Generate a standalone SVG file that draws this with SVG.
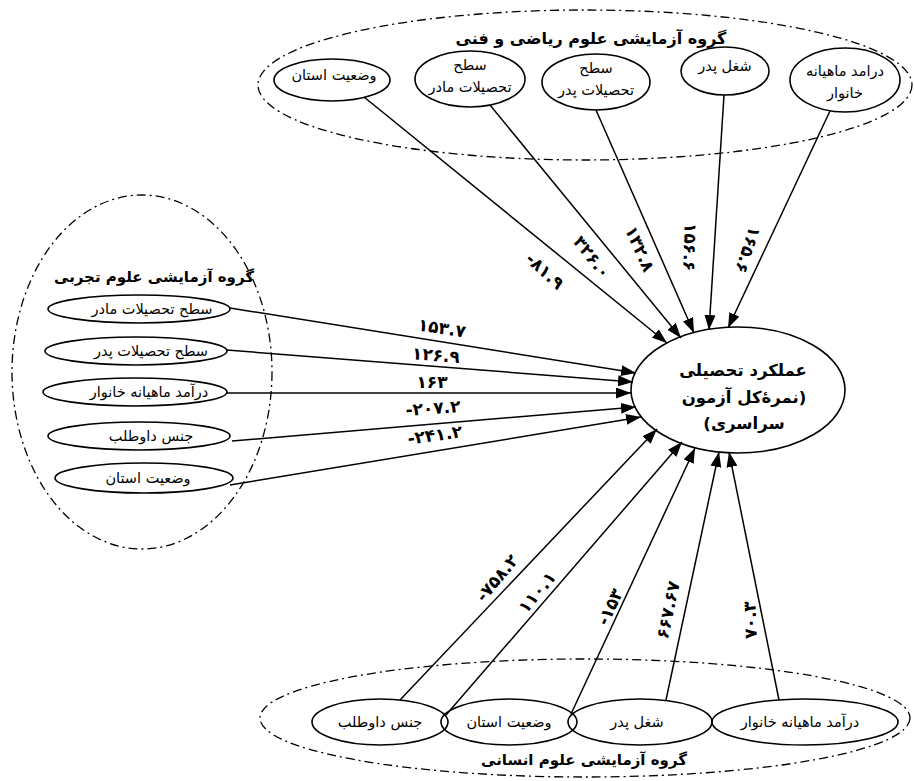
<svg xmlns="http://www.w3.org/2000/svg" width="914" height="781" viewBox="0 0 914 781">
<style>
.grp{fill:none;stroke:#000;stroke-width:1.3;stroke-dasharray:9 4 2 4}
.node{fill:none;stroke:#000;stroke-width:1.6}
.t{font-family:"DejaVu Sans",sans-serif;font-size:14.5px;fill:#000;text-anchor:middle;direction:rtl}
.title{font-family:"DejaVu Sans",sans-serif;font-size:15px;font-weight:bold;fill:#000;text-anchor:middle;direction:rtl}
.ctr{font-family:"DejaVu Sans",sans-serif;font-size:16.5px;font-weight:bold;fill:#000;text-anchor:middle;direction:rtl}
.num{font-family:"DejaVu Sans",sans-serif;font-size:17px;font-weight:bold;fill:#000;text-anchor:middle}
#connectors line{stroke:#000;stroke-width:1.5;marker-end:url(#ah)}
</style>
<defs>
<marker id="ah" markerUnits="userSpaceOnUse" markerWidth="15" markerHeight="11" refX="15" refY="5.5" orient="auto" viewBox="0 0 15 11">
<path d="M0,0 L15,5.5 L0,11 z" fill="#000"/>
</marker>
</defs>
<rect width="914" height="781" fill="#fff"/>

<!-- group frames -->
<g id="group-math">
<ellipse class="grp" cx="585" cy="85" rx="327" ry="75"/>
<text class="title" x="591" y="44" style="font-size:16px">گروه آزمایشی علوم ریاضی و فنی</text>
</g>
<g id="group-exp">
<ellipse class="grp" cx="142" cy="372" rx="130" ry="177"/>
<text class="title" x="154" y="282">گروه آزمایشی علوم تجربی</text>
</g>
<g id="group-hum">
<ellipse class="grp" cx="585" cy="718" rx="325" ry="59"/>
<text class="title" x="584" y="765">گروه آزمایشی علوم انسانی</text>
</g>

<!-- top nodes -->
<g id="m-province"><ellipse class="node" cx="332" cy="80" rx="58" ry="21"/><text class="t" x="334" y="80">وضعیت استان</text></g>
<g id="m-mother-edu"><ellipse class="node" cx="470" cy="79" rx="55" ry="28"/><text class="t" x="470" y="70">سطح</text><text class="t" x="470" y="92">تحصیلات مادر</text></g>
<g id="m-father-edu"><ellipse class="node" cx="596" cy="82" rx="54" ry="28"/><text class="t" x="596" y="73">سطح</text><text class="t" x="596" y="95">تحصیلات پدر</text></g>
<g id="m-father-job"><ellipse class="node" cx="725" cy="71" rx="44" ry="24"/><text class="t" x="725" y="71">شغل پدر</text></g>
<g id="m-income"><ellipse class="node" cx="845" cy="80" rx="55" ry="32"/><text class="t" x="845" y="76">درامد ماهیانه</text><text class="t" x="845" y="98">خانوار</text></g>

<!-- left nodes -->
<g id="e-mother-edu"><ellipse class="node" cx="139" cy="309" rx="91" ry="14"/><text class="t" x="152" y="314">سطح تحصیلات مادر</text></g>
<g id="e-father-edu"><ellipse class="node" cx="136" cy="351" rx="91" ry="14"/><text class="t" x="151" y="356">سطح تحصیلات پدر</text></g>
<g id="e-income"><ellipse class="node" cx="135" cy="392" rx="92" ry="14"/><text class="t" x="149" y="397">درآمد ماهیانه خانوار</text></g>
<g id="e-gender"><ellipse class="node" cx="139" cy="436" rx="91" ry="14"/><text class="t" x="151" y="441">جنس داوطلب</text></g>
<g id="e-province"><ellipse class="node" cx="144" cy="478" rx="89" ry="15"/><text class="t" x="148" y="483">وضعیت استان</text></g>

<!-- bottom nodes -->
<g id="h-gender"><ellipse class="node" cx="380" cy="722" rx="68" ry="23"/><text class="t" x="380" y="727">جنس داوطلب</text></g>
<g id="h-province"><ellipse class="node" cx="509" cy="722" rx="68" ry="23"/><text class="t" x="509" y="727">وضعیت استان</text></g>
<g id="h-father-job"><ellipse class="node" cx="640" cy="722" rx="72" ry="23"/><text class="t" x="637" y="727">شغل پدر</text></g>
<g id="h-income"><ellipse class="node" cx="805" cy="722" rx="93" ry="23"/><text class="t" x="800" y="727">درآمد ماهیانه خانوار</text></g>

<!-- center node -->
<g id="performance">
<ellipse class="node" cx="738" cy="390" rx="107" ry="63"/>
<text class="ctr" x="743" y="376">عملکرد تحصیلی</text>
<text class="ctr" x="744" y="403">(نمرۀکل آزمون</text>
<text class="ctr" x="744" y="429">سراسری)</text>
</g>

<g id="connectors">
<line x1="364" y1="97" x2="667" y2="343"/>
<line x1="490" y1="105" x2="681" y2="338"/>
<line x1="596" y1="110" x2="694" y2="333"/>
<line x1="724" y1="95" x2="709" y2="330"/>
<line x1="830" y1="111" x2="728" y2="328"/>
<line x1="230" y1="308" x2="636" y2="373"/>
<line x1="227" y1="350" x2="633" y2="382"/>
<line x1="227" y1="393" x2="631" y2="393"/>
<line x1="232" y1="441" x2="636" y2="407"/>
<line x1="230" y1="485" x2="641" y2="417"/>
<line x1="400" y1="700" x2="657" y2="429"/>
<line x1="446" y1="715" x2="682" y2="442"/>
<line x1="571" y1="714" x2="695" y2="448"/>
<line x1="666" y1="700" x2="719" y2="452"/>
<line x1="779" y1="700" x2="729" y2="452"/>
</g>

<g id="labels">
<text class="num" transform="translate(545,271) rotate(42)" y="6">-۸۱.۹</text>
<text class="num" transform="translate(592,257) rotate(52)" y="6">۳۲۶.۰</text>
<text class="num" transform="translate(640,249) rotate(66)" y="6">۱۳۲.۸</text>
<text class="num" transform="translate(690,247) rotate(92)" y="6">۱۵۶.۶</text>
<text class="num" transform="translate(748,250) rotate(108)" y="6">۱۶۵.۶</text>
<text class="num" transform="translate(442,328) rotate(9)" y="6">۱۵۳.۷</text>
<text class="num" transform="translate(436,355) rotate(5)" y="6">۱۲۶.۹</text>
<text class="num" transform="translate(432,382)" y="6">۱۶۳</text>
<text class="num" transform="translate(433,408) rotate(-4)" y="6">-۲۰۷.۲</text>
<text class="num" transform="translate(435,435) rotate(-8)" y="6">-۲۴۱.۲</text>
<text class="num" transform="translate(497,578) rotate(-50)" y="6">-۷۵۸.۲</text>
<text class="num" transform="translate(537,592) rotate(-50)" y="6">۱۱۰.۱</text>
<text class="num" transform="translate(610,607) rotate(-65)" y="6">-۱۵۳</text>
<text class="num" transform="translate(668,610) rotate(-78)" y="6">۶۶۷.۶۷</text>
<text class="num" transform="translate(750,620) rotate(-92)" y="6">۷۰.۳</text>
</g>
</svg>
